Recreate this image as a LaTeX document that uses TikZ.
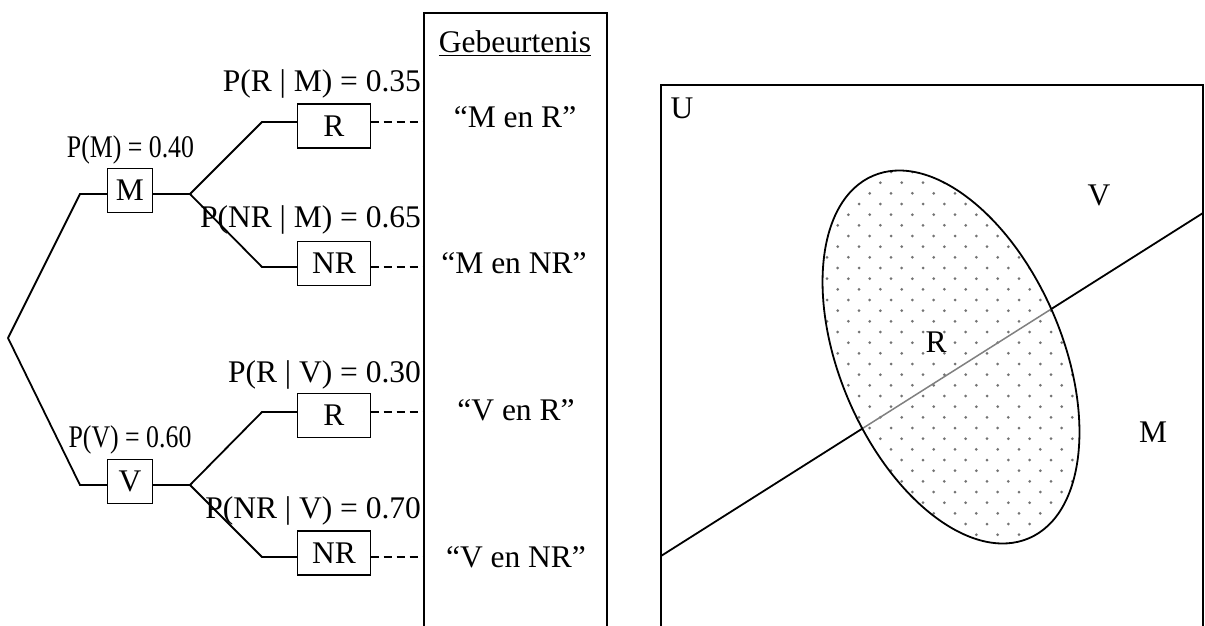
\documentclass[tikz,border=0pt]{standalone}
\usepackage{fontspec}
\setmainfont{Liberation Serif}
\newfontfamily\narrowfont[FakeStretch=0.82]{Liberation Serif}
\begin{document}
\begin{tikzpicture}[x=1pt,y=1pt,line width=1.8pt,
  every node/.style={inner sep=0pt,outer sep=0pt},
  txt/.style={font=\fontsize{31.5}{31.5}\selectfont},
  box/.style={draw,txt,line width=1.8pt,minimum height=44pt},
  lab/.style={txt,anchor=base east},
  plab/.style={font=\narrowfont\fontsize{31.5}{31.5}\selectfont,anchor=base},
  ev/.style={txt,anchor=base},
  conn/.style={line width=1.8pt},
  dashline/.style={dash pattern=on 8pt off 5pt,line width=1.6pt},
  dotc/.style={fill=black!55}]
\useasboundingbox (0,0) rectangle (1205,-626);
\clip (0,0) rectangle (1205,-626);

% ---------- tree ----------
\coordinate (root) at (8,-338);
\coordinate (mL) at (80,-194);
\coordinate (mJ) at (190,-194);
\coordinate (vL) at (80,-485);
\coordinate (vJ) at (190,-485);
\coordinate (c1) at (262,-122);
\coordinate (c2) at (262,-267);
\coordinate (c3) at (262,-412);
\coordinate (c4) at (262,-557);

\node[box,minimum width=45pt] (M) at (130,-190.5) {M};
\node[box,minimum width=45pt] (V) at (130,-481.5) {V};
\node[box,minimum width=73pt] (R1) at (334,-126) {R};
\node[box,minimum width=73pt] (NR1) at (334,-263.5) {NR};
\node[box,minimum width=73pt] (R2) at (334,-415.5) {R};
\node[box,minimum width=73pt] (NR2) at (334,-553) {NR};

\draw[conn] (root) -- (mL) -- (M.west |- mL);
\draw[conn] (M.east |- mJ) -- (mJ);
\draw[conn] (root) -- (vL) -- (V.west |- vL);
\draw[conn] (V.east |- vJ) -- (vJ);
\draw[conn] (mJ) -- (c1) -- (R1.west |- c1);
\draw[conn] (mJ) -- (c2) -- (NR1.west |- c2);
\draw[conn] (vJ) -- (c3) -- (R2.west |- c3);
\draw[conn] (vJ) -- (c4) -- (NR2.west |- c4);

\node[plab] (pM) at (130.5,-157) {P(M) = 0.40};
\node[plab] (pV) at (130,-447) {P(V) = 0.60};
\node[lab] (pRM) at (421,-92) {P(R | M) = 0.35};
\node[lab] (pNRM) at (421,-227) {P(NR | M) = 0.65};
\node[lab] (pRV) at (421,-382) {P(R | V) = 0.30};
\node[lab] (pNRV) at (421,-518) {P(NR | V) = 0.70};

% ---------- event column ----------
\draw[line width=1.8pt] (424,-700) -- (424,-13) -- (607,-13) -- (607,-700);
\coordinate (e1) at (424,-122);
\coordinate (e2) at (424,-267);
\coordinate (e3) at (424,-412);
\coordinate (e4) at (424,-557);
\draw[dashline] (R1.east |- e1) -- (e1);
\draw[dashline] (NR1.east |- e2) -- (e2);
\draw[dashline] (R2.east |- e3) -- (e3);
\draw[dashline] (NR2.east |- e4) -- (e4);

\node[ev] (geb) at (515,-53) {\underline{Gebeurtenis}};
\node[ev] (g1) at (515,-127) {“M en R”};
\node[ev] (g2) at (514,-273) {“M en NR”};
\node[ev] (g3) at (516,-420) {“V en R”};
\node[ev] (g4) at (516,-567) {“V en NR”};

% ---------- Venn diagram ----------
\draw[line width=1.8pt] (661,-700) -- (661,-85) -- (1203,-85) -- (1203,-700);
\coordinate (lineA) at (661,-556);
\coordinate (lineB) at (1203,-213);
\draw[line width=1.8pt] (lineA) -- (lineB);
\begin{scope}
  \clip[rotate around={-66.7:(951,-357)}] (951,-357) ellipse [x radius=197.3pt, y radius=111.1pt];
  \fill[white] (780,-140) rectangle (1100,-560);
  \foreach \k in {0,...,40} {
    \foreach \i in {-4,...,13} {
      \fill[dotc] ({837.67+10.667*mod(\k,2)+21.333*\i},{-(140+10.667*\k)}) circle [radius=1.5pt];
    }
  }
  \draw[black!50,line width=1.5pt] (lineA) -- (lineB);
\end{scope}
\draw[line width=1.8pt,rotate around={-66.7:(951,-357)}] (951,-357) ellipse [x radius=197.3pt, y radius=111.1pt];

\node[ev] (U) at (682,-118) {U};
\node[ev] (Vl) at (1099,-205) {V};
\node[ev] (Ml) at (1153,-442) {M};
\node[ev] (Rl) at (936,-352) {R};
\end{tikzpicture}
\end{document}
